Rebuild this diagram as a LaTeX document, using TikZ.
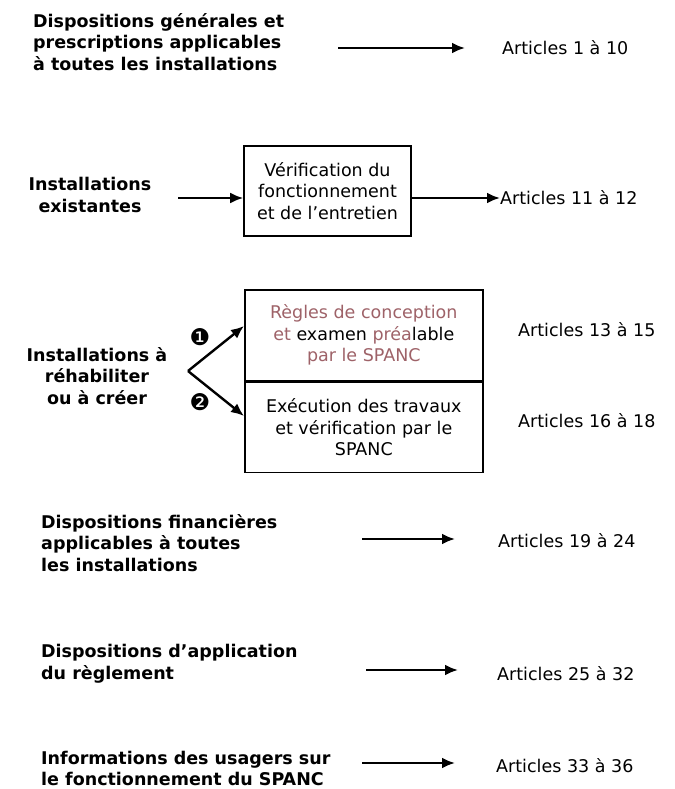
\documentclass[tikz,border=0pt]{standalone}
\usepackage{fontspec}
\setmainfont{DejaVu Sans}
\usetikzlibrary{positioning,arrows.meta}
\definecolor{mauve}{RGB}{158,98,104}

\begin{document}
\begin{tikzpicture}[x=1pt, y=-1pt, >={Latex[length=13pt,width=11pt]},
    titre/.style={font=\fontsize{17.5}{21.5}\selectfont\bfseries, align=left, anchor=west, inner sep=0pt},
    titrec/.style={font=\fontsize{17.5}{21.5}\selectfont\bfseries, align=center, inner sep=0pt},
    art/.style={font=\fontsize{17.5}{21.5}\selectfont, anchor=west, inner sep=0pt},
    boite/.style={draw, line width=1.6pt, align=center, font=\fontsize{17.5}{21.5}\selectfont, inner sep=0pt},
    num/.style={font=\fontsize{23}{23}\selectfont, inner sep=0pt},
    fleche/.style={->, line width=2.4pt}
    ]
    \useasboundingbox (0,0) rectangle (674,789);
    % ligne 1
    \node[titre] at (33,42) (gen) {Dispositions générales et\\prescriptions applicables\\à toutes les installations};
    \node[art] at (502,48) (art1) {Articles 1 à 10};
    \coordinate (s1) at (338,48);
    \coordinate (e1) at (465,48);
    \draw[fleche] (s1) -- (e1);
    % installations existantes
    \node[titrec] at (90,195) (exist) {Installations\\existantes};
    \node[boite, minimum width=167pt, minimum height=90pt] at (327.5,191) (verif) {Vérification du\\fonctionnement\\et de l’entretien};
    \node[art] at (500,198) (art2) {Articles 11 à 12};
    \coordinate (s2) at (178,198);
    \draw[fleche] (s2) -- (s2 -| verif.west);
    \draw[fleche] (verif.east |- s2) -- (art2.west);
    % installations a rehabiliter
    \node[titrec] at (97,376) (rehab) {Installations à\\réhabiliter\\ou à créer};
    \node[boite, minimum width=238pt, minimum height=91pt, anchor=north west] at (244,289) (regles)
        {\color{mauve}Règles de conception\\\color{mauve}et \color{black}examen \color{mauve}préa\color{black}lable\\\color{mauve}par le SPANC};
    \node[boite, minimum width=238pt, minimum height=90pt, anchor=north] at (regles.south) (exec)
        {Exécution des travaux\\et vérification par le\\SPANC};
    \node[art] at (518,330) (art3) {Articles 13 à 15};
    \node[art] at (518,421) (art4) {Articles 16 à 18};
    \node[num] at (200,337) (un) {❶};
    \node[num] at (200,402) (deux) {❷};
    \coordinate (v) at (188,371);
    \coordinate (t1) at (244,326);
    \coordinate (t2) at (244,416);
    \draw[fleche] (v) -- (t1);
    \draw[fleche] (v) -- (t2);
    % dispositions financieres
    \node[titre] at (41,543) (fin) {Dispositions financières\\applicables à toutes\\les installations};
    \node[art] at (498,541) (art5) {Articles 19 à 24};
    \coordinate (s5) at (362,539);
    \coordinate (e5) at (455,539);
    \draw[fleche] (s5) -- (e5);
    % application
    \node[titre] at (41,663.5) (appl) {Dispositions d’application\\du règlement};
    \node[art] at (497,674) (art6) {Articles 25 à 32};
    \coordinate (s6) at (366,670);
    \coordinate (e6) at (458,670);
    \draw[fleche] (s6) -- (e6);
    % informations
    \node[titre] at (41,768.5) (info) {Informations des usagers sur\\le fonctionnement du SPANC};
    \node[art] at (496,766) (art7) {Articles 33 à 36};
    \coordinate (s7) at (362,763);
    \coordinate (e7) at (455,763);
    \draw[fleche] (s7) -- (e7);
\end{tikzpicture}
\end{document}
